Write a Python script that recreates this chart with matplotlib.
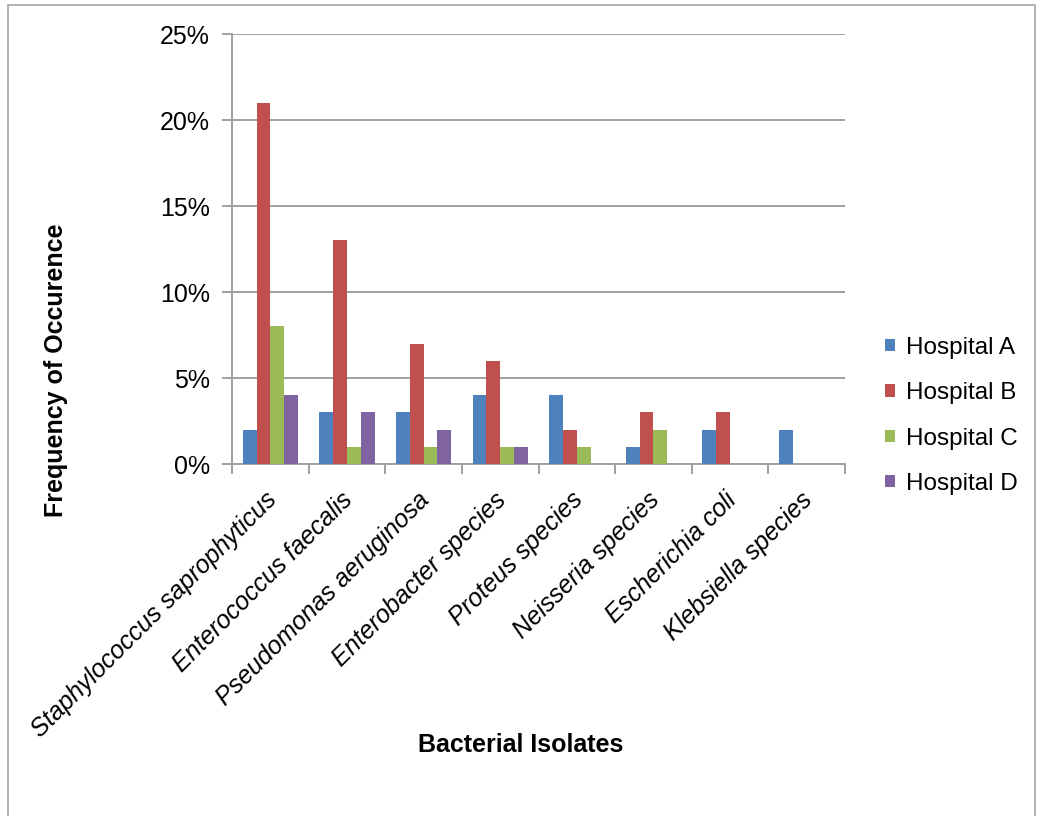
import numpy as np
import matplotlib
matplotlib.use("Agg")
from matplotlib import pyplot as plt
from matplotlib.ticker import PercentFormatter
from matplotlib.patches import Rectangle

plt.rcParams['font.family'] = ['Liberation Sans', 'DejaVu Sans']

isolates = ["Staphylococcus saprophyticus", "Enterococcus faecalis",
            "Pseudomonas aeruginosa", "Enterobacter species",
            "Proteus species", "Neisseria species",
            "Escherichia coli", "Klebsiella species"]
hospitals = ["Hospital A", "Hospital B", "Hospital C", "Hospital D"]

hosp_a = [2, 3, 3, 4, 4, 1, 2, 2]
hosp_b = [21, 13, 7, 6, 2, 3, 3, 0]
hosp_c = [8, 1, 1, 1, 1, 2, 0, 0]
hosp_d = [4, 3, 2, 1, 0, 0, 0, 0]

colors = ["#4F81BD", "#C0504D", "#9BBB59", "#8064A2"]

fig = plt.figure(figsize=(10.41, 8.16), dpi=100)
# outer frame like the excel chart area
fig.patches.append(Rectangle((8/1041, -0.01), (1035-8)/1041, 1 - 5/816 + 0.01,
                             transform=fig.transFigure, fill=False,
                             edgecolor="#A6A6A6", linewidth=1.2))

ax = fig.add_axes([232/1041, 1 - 464/816, (845-232)/1041, (464-34)/816])

x = np.arange(len(isolates))
w = 0.18
series = [hosp_a, hosp_b, hosp_c, hosp_d]
for i, vals in enumerate(series):
    ax.bar(x + (i - 1.5) * w, vals, width=w, color=colors[i],
           label=hospitals[i], zorder=3)

ax.set_xlim(-0.5, len(isolates) - 0.5)
ax.set_ylim(0, 25)
ax.set_yticks(np.arange(0, 26, 5))
ax.yaxis.set_major_formatter(PercentFormatter(decimals=0))
ax.yaxis.grid(True, color="#A0A0A0", linewidth=1.4, zorder=0)
ax.set_axisbelow(True)

ax.set_xticks(np.arange(-0.5, len(isolates), 1))
ax.set_xticklabels([])
# labels anchored a bit left of the group centre, like excel does
ax.set_xticks(x - 0.08, minor=True)
ax.set_xticklabels(isolates, minor=True, rotation=45, ha="right",
                   rotation_mode="anchor", style="italic", fontsize=18)
ax.tick_params(axis="x", which="minor", length=0, pad=17)
ax.tick_params(axis="x", which="major", length=7, color="#A0A0A0", width=1.4)
ax.tick_params(axis="y", length=7, color="#A0A0A0", width=1.4, labelsize=18, pad=9)

for side in ["top", "right"]:
    ax.spines[side].set_visible(False)
for side in ["left", "bottom"]:
    ax.spines[side].set_color("#A0A0A0")
    ax.spines[side].set_linewidth(1.4)

ax.set_xlabel("Bacterial Isolates", fontsize=18, fontweight="bold")
ax.xaxis.set_label_coords(0.471, -0.626)
ax.set_ylabel("Frequency of Occurence", fontsize=18, fontweight="bold")
ax.yaxis.set_label_coords(-0.2675, 0.219)

ax.legend(loc="center left", bbox_to_anchor=(1.029, 0.112), frameon=False,
          fontsize=17.5, handlelength=0.42, handleheight=0.42,
          handletextpad=0.45, labelspacing=0.96)

fig.savefig("out.png", dpi=100)
